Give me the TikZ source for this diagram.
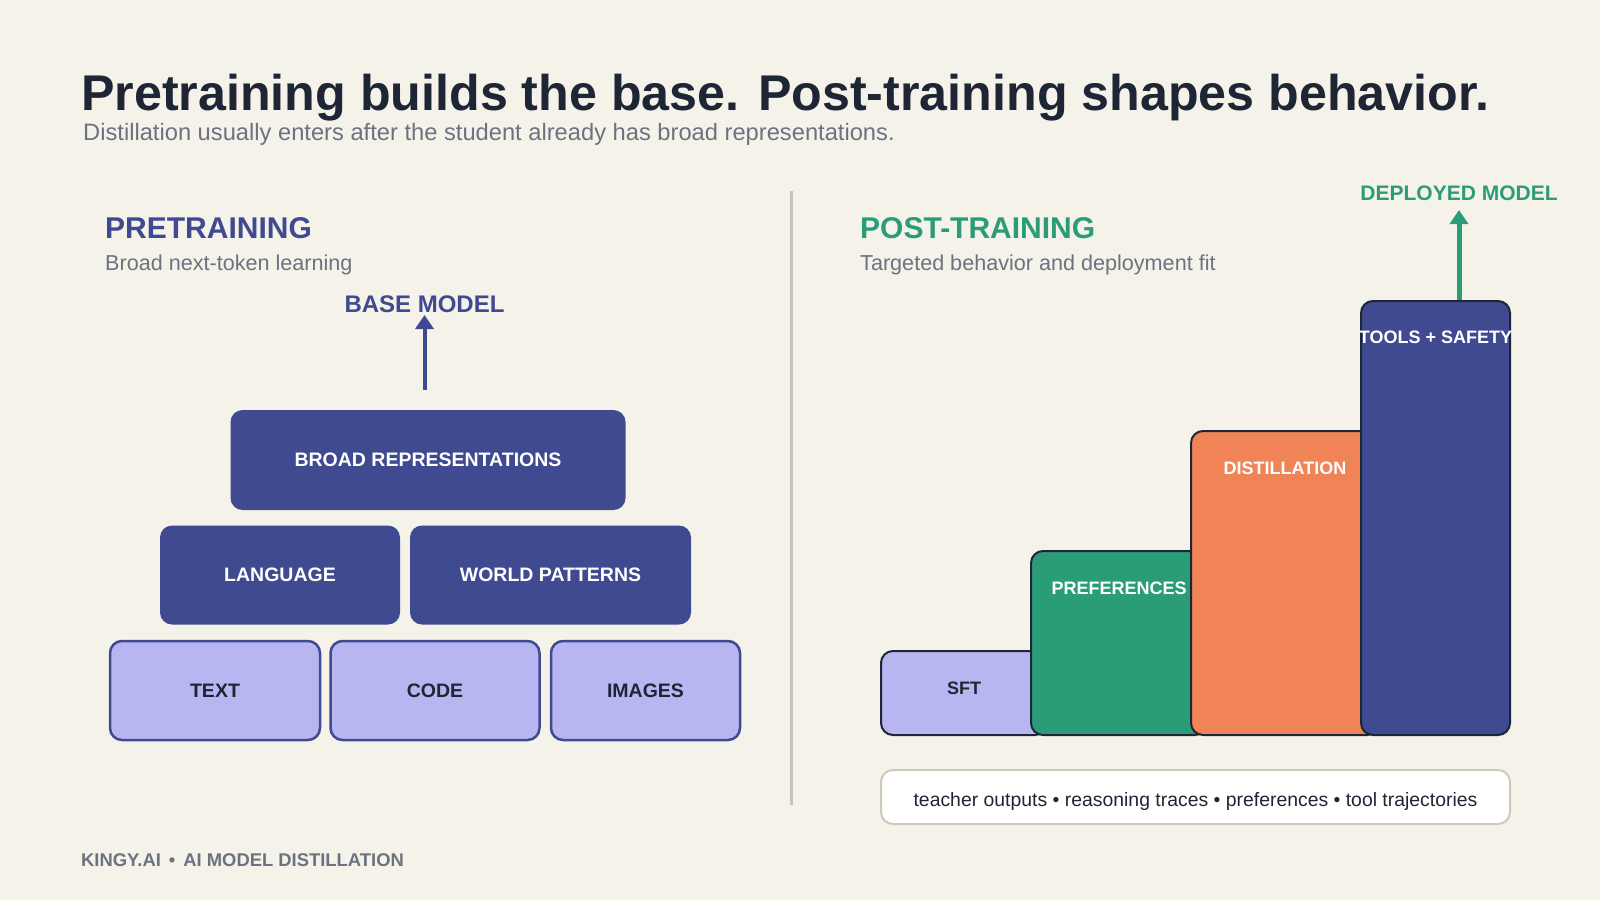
\documentclass[tikz,border=0pt]{standalone}
\usepackage{fontspec}
\setmainfont{Liberation Sans}
\usetikzlibrary{arrows.meta,positioning,calc}
\definecolor{PageCream}{RGB}{245,242,234}
\definecolor{InkDark}{RGB}{30,38,53}
\definecolor{MutedGray}{RGB}{107,114,128}
\definecolor{DeepIndigo}{RGB}{63,74,145}
\definecolor{SoftLavender}{RGB}{184,182,240}
\definecolor{TealGreen}{RGB}{42,157,120}
\definecolor{WarmOrange}{RGB}{240,132,87}
\definecolor{DividerTan}{RGB}{200,196,184}
\definecolor{LegendEdge}{RGB}{207,201,186}
\newcommand{\fsz}[1]{\fontsize{#1}{#1}\selectfont}
\tikzset{
  headline/.style={anchor=base west,inner sep=0pt,text=InkDark,
    font=\fsz{50.2}\bfseries},
  subline/.style={anchor=base west,inner sep=0pt,text=MutedGray,font=\fsz{23.7}},
  paneltitle/.style={anchor=base west,inner sep=0pt,font=\fsz{30}\bfseries},
  panelnote/.style={anchor=base west,inner sep=0pt,text=MutedGray,font=\fsz{21.6}},
  tierbox/.style={rectangle,rounded corners=12pt,fill=DeepIndigo,text=white,
    inner sep=0pt,font=\fsz{19.5}\bfseries},
  sourcebox/.style={rectangle,rounded corners=12pt,draw=DeepIndigo,
    line width=2.5pt,fill=SoftLavender,text=InkDark,inner sep=0pt,
    font=\fsz{19.5}\bfseries},
  stagebar/.style={rectangle,rounded corners=12pt,draw=InkDark,
    line width=2pt,inner sep=0pt},
  stagelabel/.style={inner sep=0pt,text=white,font=\fsz{18}\bfseries},
  modellabel/.style={anchor=base,inner sep=0pt,font=\fsz{24}\bfseries},
  riseup/.style={-{Triangle[length=14pt,width=18pt]},line width=4pt},
  divider/.style={draw=DividerTan,line width=3pt},
  legendbox/.style={rectangle,rounded corners=12pt,draw=LegendEdge,
    line width=2pt,fill=white,inner sep=0pt},
  legendtext/.style={inner sep=0pt,text=InkDark,font=\fsz{19.4}},
  footer/.style={anchor=base west,inner sep=0pt,text=MutedGray,
    font=\fsz{18.4}\bfseries},
}
\begin{document}
\begin{tikzpicture}[x=1pt,y=-1pt]
  \fill[PageCream] (0,0) rectangle (1600,900);
  % heading
  \node[headline] (title) at (81,110)
    {Pretraining builds the base. Post-training shapes behavior.};
  \node[subline] (subtitle) at (83,140)
    {Distillation usually enters after the student already has broad representations.};
  \draw[divider] (791,191) -- (791,805);

  % left panel: pretraining pyramid
  \node[paneltitle,text=DeepIndigo] (pretitle) at (105,238) {PRETRAINING};
  \node[panelnote] (prenote) at (105,270) {Broad next-token learning};
  \node[modellabel,text=DeepIndigo] (basemodel) at (424.5,312) {BASE MODEL};
  \node[tierbox,minimum width=395pt,minimum height=100pt] (broad) at (428,460)
    {BROAD REPRESENTATIONS};
  \node[tierbox,minimum width=240pt,minimum height=99pt] (language) at (280,575)
    {LANGUAGE};
  \node[tierbox,minimum width=281pt,minimum height=99pt] (world) at (550.5,575)
    {WORLD PATTERNS};
  \node[sourcebox,minimum width=210pt,minimum height=99pt] (text) at (215,690.5)
    {TEXT};
  \node[sourcebox,minimum width=209pt,minimum height=99pt] (code) at (435,690.5)
    {CODE};
  \node[sourcebox,minimum width=189pt,minimum height=99pt] (images) at (645.5,690.5)
    {IMAGES};
  \draw[riseup,DeepIndigo] ([yshift=20pt]broad.north -| basemodel.base)
    -- ([yshift=-3pt]basemodel.base);

  % right panel: post-training staircase
  \node[paneltitle,text=TealGreen] (posttitle) at (860,238) {POST-TRAINING};
  \node[panelnote] (postnote) at (860,270) {Targeted behavior and deployment fit};
  \node[modellabel,text=TealGreen,font=\fsz{21}\bfseries] (deployed) at (1459,200)
    {DEPLOYED MODEL};
  \node[stagebar,fill=SoftLavender,minimum width=166pt,minimum height=84pt]
    (sft) at (964,693) {};
  \node[stagebar,fill=TealGreen,minimum width=176pt,minimum height=184pt]
    (prefs) at (1119,643) {};
  \node[stagebar,fill=WarmOrange,minimum width=188pt,minimum height=304pt]
    (distill) at (1285,583) {};
  \node[stagebar,fill=DeepIndigo,minimum width=149pt,minimum height=434pt]
    (tools) at (1435.5,518) {};
  \node[stagelabel,text=InkDark] (sftlabel) at ([yshift=-38pt]sft.north) {SFT};
  \node[stagelabel] (prefslabel) at ([yshift=-38pt]prefs.north) {PREFERENCES};
  \node[stagelabel] (distilllabel) at ([yshift=-38pt]distill.north) {DISTILLATION};
  \node[stagelabel] (toolslabel) at ([yshift=-37pt]tools.north) {TOOLS + SAFETY};
  \draw[riseup,TealGreen,line width=5pt] (tools.north -| deployed.base)
    -- ([yshift=-10pt]deployed.base);
  \node[legendbox,minimum width=629pt,minimum height=54pt] (legend) at (1195.5,797) {};
  \node[legendtext] (legendline) at ([yshift=-4pt]legend.center)
    {teacher outputs • reasoning traces • preferences • tool trajectories};

  % footer
  \node[footer] (brand) at (81,866)
    {KINGY.AI\hspace{8pt}•\hspace{8pt}AI MODEL DISTILLATION};
\end{tikzpicture}
\end{document}
